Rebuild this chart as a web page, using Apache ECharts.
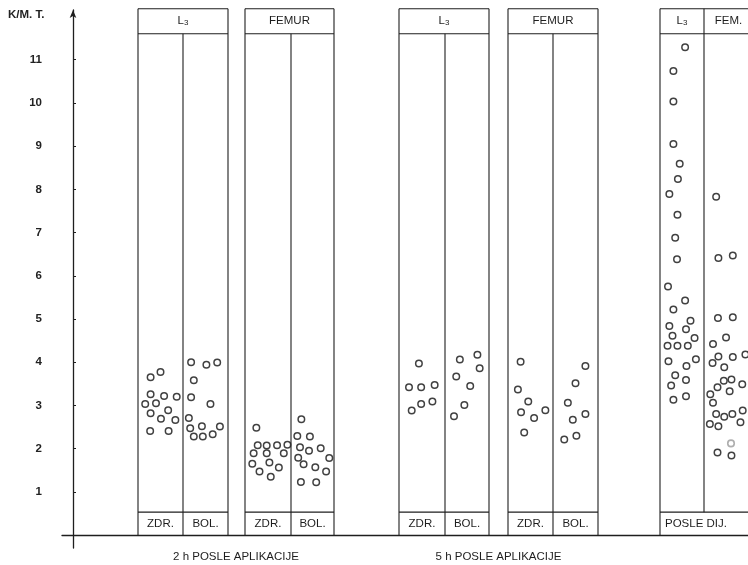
<!DOCTYPE html>
<html>
<head>
<meta charset="utf-8">
<script src="https://cdn.jsdelivr.net/npm/echarts@6/dist/echarts.min.js"></script>
<style>
  html, body { margin: 0; padding: 0; background: #fff; }
  #chart { width: 748px; height: 565px; }
</style>
</head>
<body>
<div id="chart"></div>
<script>
// K/M.T. values labelled on the vertical axis
const yTicks = [1, 2, 3, 4, 5, 6, 7, 8, 9, 10, 11];

// Column captions
const headerL3 = 'L{s|3}';
const headerFemur = 'FEMUR';
const headerFemShort = 'FEM.';
const footerHealthy = 'ZDR.';
const footerIll = 'BOL.';
const footerAfterTreatment = 'POSLE DIJ.';
const groupCaptions = ['2 h POSLE APLIKACIJE', '5 h POSLE APLIKACIJE'];
const axisTitle = 'K/M. T.';

// Each point: [lateral offset inside its column (share of column width), K/M.T. value]
const l3TwoHourZdr = [
  [0.00, 3.77], [-0.22, 3.65], [-0.22, 3.26], [0.08, 3.22], [0.36, 3.20],
  [-0.34, 3.03], [-0.10, 3.05], [0.17, 2.89], [-0.22, 2.82], [0.01, 2.69],
  [0.33, 2.66], [-0.23, 2.41], [0.18, 2.41]
];
const l3TwoHourBol = [
  [-0.32, 4.00], [0.02, 3.94], [0.26, 3.99], [-0.26, 3.58], [-0.32, 3.19],
  [0.11, 3.03], [-0.37, 2.71], [-0.08, 2.52], [0.32, 2.51], [-0.34, 2.47],
  [-0.26, 2.28], [-0.06, 2.28], [0.16, 2.33]
];
const femurTwoHourZdr = [
  [-0.27, 2.48], [-0.24, 2.08], [-0.04, 2.07], [0.19, 2.08], [0.42, 2.09],
  [-0.33, 1.89], [-0.04, 1.89], [0.34, 1.89], [-0.36, 1.65], [0.02, 1.68],
  [0.23, 1.56], [-0.20, 1.47], [0.05, 1.35]
];
const femurTwoHourBol = [
  [-0.27, 2.68], [-0.36, 2.29], [-0.08, 2.28], [-0.30, 2.03], [-0.10, 1.95],
  [0.16, 2.01], [-0.34, 1.79], [0.35, 1.78], [-0.22, 1.64], [0.04, 1.57],
  [0.28, 1.47], [-0.28, 1.23], [0.06, 1.22]
];
const l3FiveHourZdr = [
  [-0.08, 3.97], [-0.30, 3.42], [-0.03, 3.42], [0.27, 3.47], [-0.03, 3.03],
  [0.22, 3.09], [-0.24, 2.88]
];
const l3FiveHourBol = [
  [-0.17, 4.06], [0.22, 4.17], [0.27, 3.86], [-0.25, 3.67], [0.06, 3.45],
  [-0.07, 3.01], [-0.30, 2.75]
];
const femurFiveHourZdr = [
  [-0.22, 4.01], [-0.28, 3.37], [-0.05, 3.09], [-0.21, 2.84], [0.33, 2.89],
  [0.08, 2.71], [-0.14, 2.37]
];
const femurFiveHourBol = [
  [0.22, 3.91], [0.00, 3.51], [-0.17, 3.06], [0.22, 2.80], [-0.06, 2.67],
  [0.02, 2.30], [-0.25, 2.21]
];
const l3AfterTreatment = [
  [0.08, 11.29], [-0.18, 10.74], [-0.18, 10.03], [-0.18, 9.05], [-0.04, 8.59],
  [-0.08, 8.24], [-0.27, 7.89], [-0.09, 7.41], [-0.14, 6.88], [-0.10, 6.38],
  [-0.30, 5.75], [0.08, 5.43], [-0.18, 5.22], [0.20, 4.96], [-0.27, 4.84],
  [0.10, 4.76], [-0.20, 4.61], [0.29, 4.56], [-0.31, 4.38], [-0.09, 4.38],
  [0.14, 4.38], [-0.29, 4.02], [0.32, 4.07], [0.11, 3.91], [-0.14, 3.70],
  [0.10, 3.59], [-0.23, 3.46], [-0.18, 3.13], [0.10, 3.21]
];
const femurAfterTreatment = [
  [-0.23, 7.83], [-0.18, 6.41], [0.14, 6.47], [-0.19, 5.02], [0.14, 5.04],
  [-0.01, 4.57], [-0.30, 4.42], [-0.18, 4.13], [0.14, 4.12], [0.42, 4.18],
  [-0.31, 3.98], [-0.05, 3.88], [-0.06, 3.57], [0.11, 3.60], [-0.20, 3.42],
  [0.07, 3.33], [0.35, 3.49], [-0.36, 3.26], [-0.30, 3.06], [-0.23, 2.80],
  [-0.05, 2.74], [0.13, 2.80], [0.36, 2.88], [-0.37, 2.57], [-0.18, 2.52],
  [0.31, 2.61], [-0.20, 1.91], [0.11, 1.84]
];
const femurAfterTreatmentFaint = [[0.10, 2.12]];

// ---- layout (horizontal axis units are 1 px; 0 sits on the vertical axis) ----
const COL_W = 45;
const frame = { top: 12.18, header: 11.6, footer: 0.53, bottom: 0 };
const panels = [
  { left: 65,  divider: 110, right: 155, header: [headerL3],
    footer: [footerHealthy, footerIll], cols: [l3TwoHourZdr, l3TwoHourBol] },
  { left: 172, divider: 218, right: 261, header: [headerFemur],
    footer: [footerHealthy, footerIll], cols: [femurTwoHourZdr, femurTwoHourBol] },
  { left: 326, divider: 372, right: 416, header: [headerL3],
    footer: [footerHealthy, footerIll], cols: [l3FiveHourZdr, l3FiveHourBol] },
  { left: 435, divider: 480, right: 525, header: [headerFemur],
    footer: [footerHealthy, footerIll], cols: [femurFiveHourZdr, femurFiveHourBol] },
  { left: 587, divider: 631, right: 680, header: [headerL3, headerFemShort],
    footer: [footerAfterTreatment], cols: [l3AfterTreatment, femurAfterTreatment] }
];
const captionCenters = [(65 + 261) / 2, (326 + 525) / 2];
const captionLevel = -0.5;

const INK = '#1e1e1e';
const FONT = '"Liberation Sans", Arial, sans-serif';

function renderPanel(params, api) {
  const p = panels[params.dataIndex];
  const X = v => api.coord([v, 0])[0];
  const Y = v => api.coord([0, v])[1];
  const xl = X(p.left), xr = X(p.right), xd = X(p.divider);
  const yt = Y(frame.top), yh = Y(frame.header), yf = Y(frame.footer), yb = Y(frame.bottom);
  const ln = (x1, y1, x2, y2) => ({
    type: 'line', shape: { x1, y1, x2, y2 },
    style: { stroke: INK, lineWidth: 1.1 }
  });
  const txt = (text, x, y, align) => ({
    type: 'text',
    style: {
      text, x, y, align: align || 'center', verticalAlign: 'middle',
      fill: INK, font: '11.5px ' + FONT,
      rich: { s: { fontSize: 8, fontFamily: FONT, fill: INK, padding: [4, 0, 0, 0] } }
    }
  });
  const children = [
    ln(xl, yt, xr, yt), ln(xl, yt, xl, yb), ln(xr, yt, xr, yb),
    ln(xl, yh, xr, yh), ln(xl, yf, xr, yf)
  ];
  const splitHeader = p.header.length === 2;
  const splitFooter = p.footer.length === 2;
  children.push(ln(xd, splitHeader ? yt : yh, xd, splitFooter ? yb : yf));
  const hy = (yt + yh) / 2, fy = (yf + yb) / 2;
  if (splitHeader) {
    children.push(txt(p.header[0], (xl + xd) / 2, hy));
    children.push(txt(p.header[1], (xd + xr) / 2, hy));
  } else {
    children.push(txt(p.header[0], (xl + xr) / 2, hy));
  }
  if (splitFooter) {
    children.push(txt(p.footer[0], (xl + xd) / 2, fy));
    children.push(txt(p.footer[1], (xd + xr) / 2, fy));
  } else {
    children.push(txt(p.footer[0], xl + 5, fy, 'left'));
  }
  return { type: 'group', children };
}

function renderCaption(params, api) {
  const pt = api.coord([captionCenters[params.dataIndex], captionLevel]);
  return {
    type: 'text',
    style: {
      text: groupCaptions[params.dataIndex], x: pt[0], y: pt[1],
      align: 'center', verticalAlign: 'middle', fill: INK, font: '11.5px ' + FONT
    }
  };
}

function columnPoints(arr, p, side) {
  const center = side === 0 ? p.divider - COL_W / 2 : p.divider + COL_W / 2;
  return arr.map(([o, v]) => [center + o * COL_W, v]);
}

const pointStyle = { color: '#fff', borderColor: '#111', borderWidth: 1.5 };
const scatterSeries = [];
panels.forEach(p => {
  p.cols.forEach((arr, side) => {
    scatterSeries.push({
      type: 'scatter', symbol: 'circle', symbolSize: 6.5, z: 5,
      data: columnPoints(arr, p, side), itemStyle: pointStyle, silent: true
    });
  });
});
scatterSeries.push({
  type: 'scatter', symbol: 'circle', symbolSize: 6.5, z: 5,
  data: columnPoints(femurAfterTreatmentFaint, panels[4], 1),
  itemStyle: { color: '#fff', borderColor: '#9a9a9a', borderWidth: 1.6 }, silent: true
});

const chart = echarts.init(document.getElementById('chart'), null, { renderer: 'canvas' });
chart.setOption({
  animation: false,
  backgroundColor: '#fff',
  grid: { left: 62, right: 0, top: 10, bottom: 17 },
  xAxis: {
    type: 'value', min: -11, max: 675,
    axisLine: { onZero: true, lineStyle: { color: INK, width: 1.3 } },
    axisTick: { show: false }, axisLabel: { show: false }, splitLine: { show: false }
  },
  yAxis: {
    type: 'value', min: -0.3, max: 12.15,
    axisLine: {
      onZero: true, symbol: ['none', 'arrow'], symbolSize: [5, 8],
      lineStyle: { color: INK, width: 1.3 }
    },
    axisTick: { customValues: yTicks, inside: true, length: 3, lineStyle: { color: INK } },
    axisLabel: {
      customValues: yTicks, margin: 20, color: '#222', fontSize: 11.5,
      fontWeight: 'bold', fontFamily: FONT, padding: [0, 0, 8, 0]
    },
    splitLine: { show: false }
  },
  graphic: [{
    type: 'text', left: 8, top: 9,
    style: { text: axisTitle, fill: '#222', font: 'bold 11.5px ' + FONT }
  }],
  series: [
    { type: 'custom', renderItem: renderPanel, data: panels.map(p => [p.left, 0]), z: 2, silent: true },
    { type: 'custom', renderItem: renderCaption, data: captionCenters.map(c => [c, captionLevel]), z: 2, silent: true },
    ...scatterSeries
  ]
});
</script>
</body>
</html>
